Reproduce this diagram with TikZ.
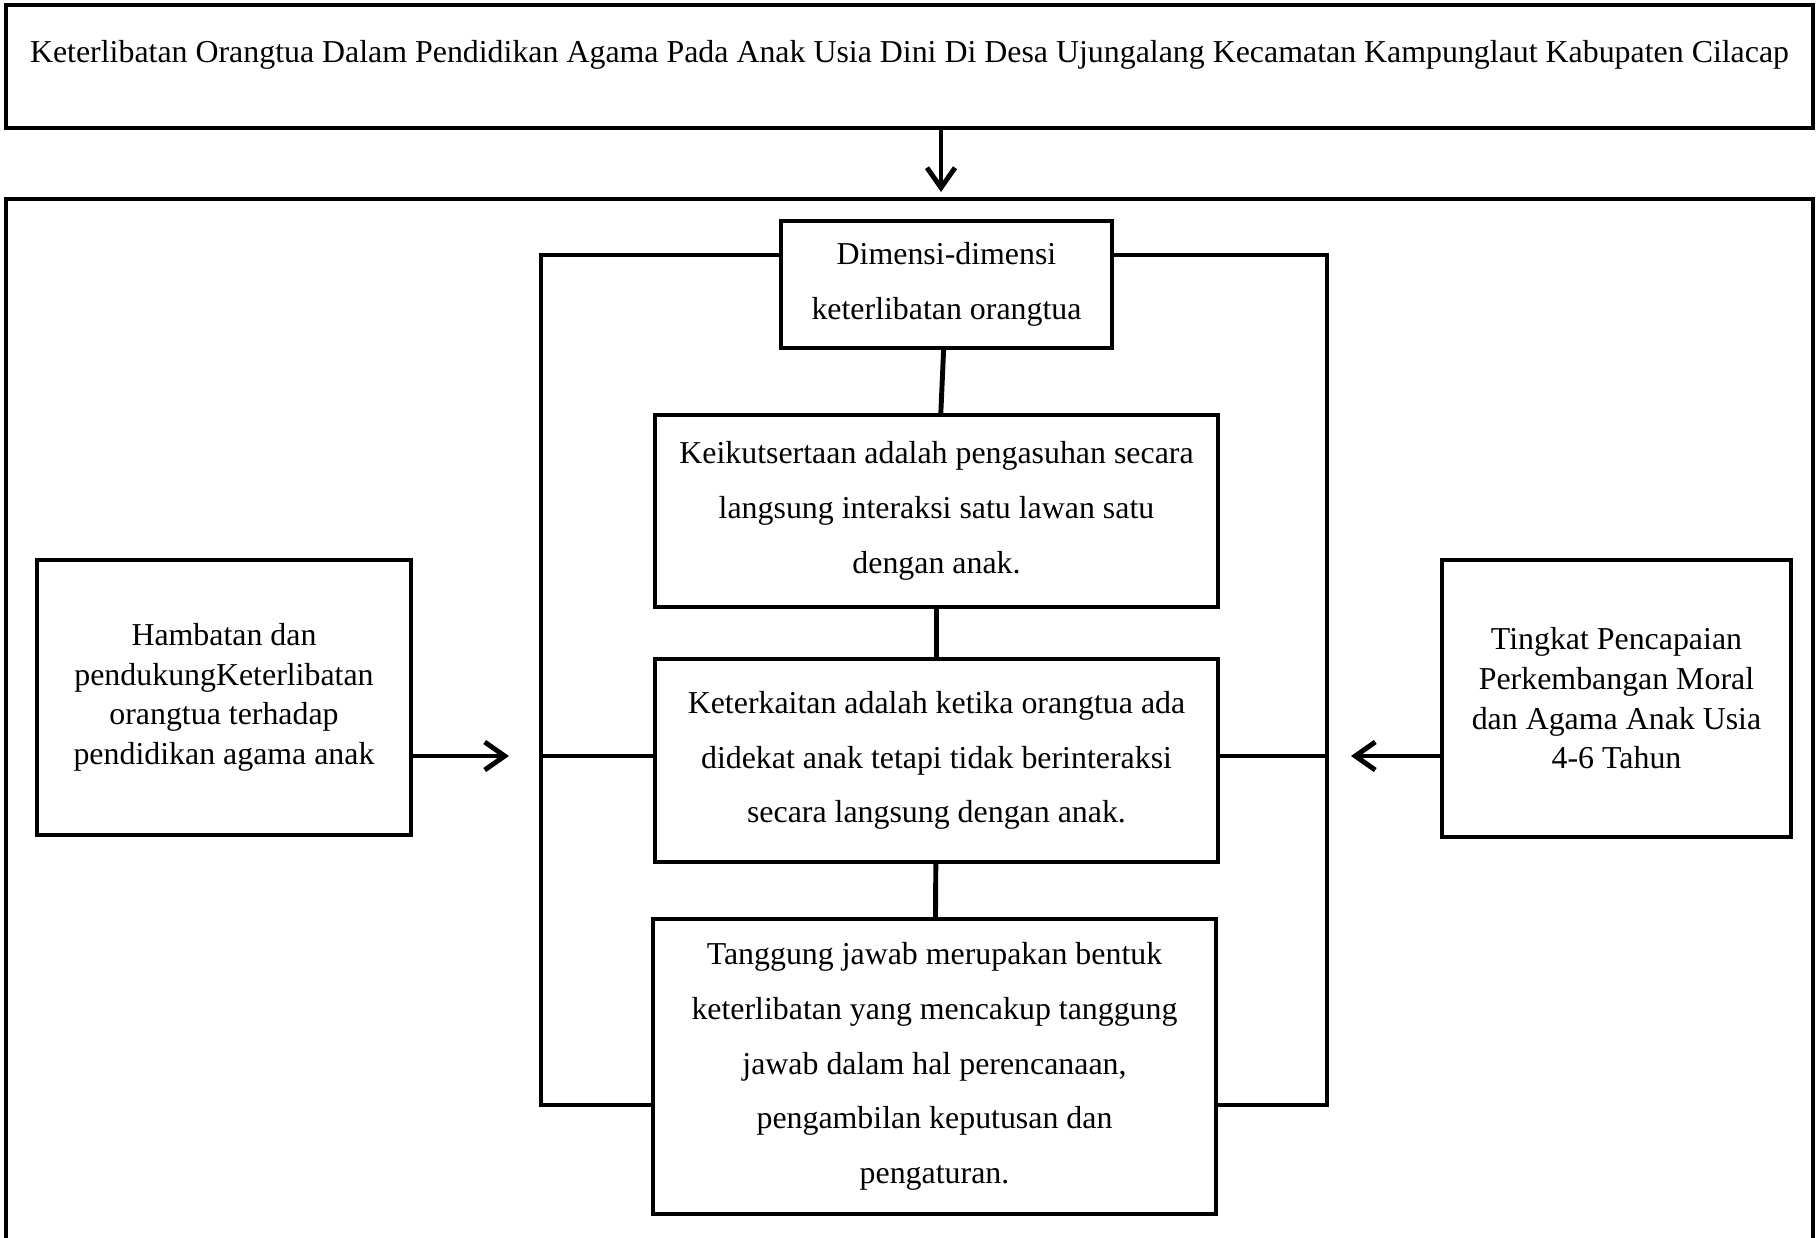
\documentclass[tikz,border=0pt]{standalone}
\usepackage{fontspec}
\setmainfont{Liberation Serif}
\usetikzlibrary{positioning,arrows.meta}

\begin{document}
\begin{tikzpicture}[
        >={Straight Barb[length=2mm,width=2.8mm]},
        line/.style={line width=1.4pt},
        box/.style={draw, line width=1.4pt, align=center, inner sep=0pt, outer sep=0pt,
            font=\fontsize{9.07}{15.6}\selectfont},
        sidebox/.style={box, font=\fontsize{9.07}{11.3}\selectfont}
    ]
        \useasboundingbox (0,0) rectangle (18.18,-12.38);

        % judul
        \node (judul) [box, anchor=north, minimum width=18.07cm, text height=0.576cm, text depth=0.654cm] at (9.095,-0.05) {Keterlibatan Orangtua Dalam Pendidikan Agama Pada Anak Usia Dini Di Desa Ujungalang Kecamatan Kampunglaut Kabupaten Cilacap};

        % bingkai luar
        \draw[line] (0.06,-12.6) |- (9.1,-1.99) -| (18.13,-12.6);
        \coordinate (masuk) at (9.41,-1.92);
        \draw[line,->] (judul.south -| masuk) -- (masuk);

        % dimensi keterlibatan
        \node (keikut) [box, minimum width=5.63cm, minimum height=1.92cm] at (9.365,-5.11) {Keikutsertaan adalah pengasuhan secara\\ langsung interaksi satu lawan satu\\ dengan anak.};
        \node (dimensi) [box, minimum width=3.31cm, minimum height=1.27cm, above=0.67cm of keikut, xshift=0.1cm] {Dimensi-dimensi\\ keterlibatan orangtua};
        \node (kait) [box, minimum width=5.63cm, minimum height=2.03cm, below=0.52cm of keikut] {Keterkaitan adalah ketika orangtua ada\\ didekat anak tetapi tidak berinteraksi\\ secara langsung dengan anak.};
        \node (tanggung) [box, minimum width=5.63cm, minimum height=2.95cm, below=0.57cm of kait, xshift=-0.02cm] {Tanggung jawab merupakan bentuk\\ keterlibatan yang mencakup tanggung\\ jawab dalam hal perencanaan,\\ pengambilan keputusan dan\\ pengaturan.};

        % kiri dan kanan
        \node (hambatan) [sidebox, minimum width=3.74cm, minimum height=2.75cm] at (2.24,-6.975) {Hambatan dan\\ pendukungKeterlibatan\\ orangtua terhadap\\ pendidikan agama anak};
        \node (tingkat) [sidebox, minimum width=3.49cm, minimum height=2.77cm] at (16.165,-6.985) {Tingkat Pencapaian\\ Perkembangan Moral\\ dan Agama Anak Usia\\ 4-6 Tahun};

        \coordinate (kiriatas) at (5.41,-2.55);
        \coordinate (kiribawah) at (5.41,-11.05);
        \coordinate (kananatas) at (13.27,-2.55);
        \coordinate (kananbawah) at (13.27,-11.05);
        \coordinate (panahkiri) at (5.09,-7.56);
        \coordinate (panahkanan) at (13.51,-7.56);

        \draw[line] (dimensi.west |- kiriatas) -- (kiriatas) -- (kiribawah) -- (tanggung.west |- kiribawah);
        \draw[line] (dimensi.east |- kananatas) -- (kananatas) -- (kananbawah) -- (tanggung.east |- kananbawah);
        \draw[line] (kiriatas |- panahkiri) -- (kait.west |- panahkiri);
        \draw[line] (kananatas |- panahkanan) -- (kait.east |- panahkanan);

        \draw[line,->] (hambatan.east |- panahkiri) -- (panahkiri);
        \draw[line,->] (tingkat.west |- panahkanan) -- (panahkanan);

        \path[line]
            (dimensi) edge (keikut)
            (keikut) edge (kait)
            (kait) edge (tanggung)
        ;
    \end{tikzpicture}
\end{document}
